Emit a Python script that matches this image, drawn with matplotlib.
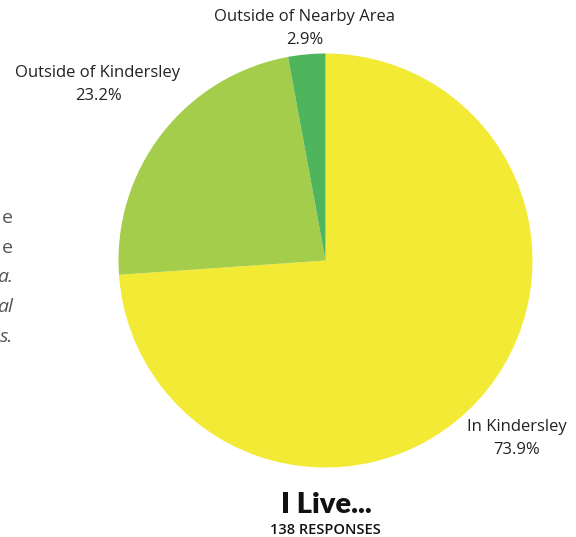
"""Pie chart: where respondents live."""

import matplotlib.pyplot as plt

W, H = 576, 537

labels = ['In Kindersley', 'Outside of Kindersley', 'Outside of Nearby Area']
values = [73.9, 23.2, 2.9]
colors = ['#f2ea35', '#a4cd4b', '#4fb55d']

title = 'I Live...'
subtitle = '138 RESPONSES'

# cut-off caption fragments at left edge
side_text = ['e', 'e', 'a.', 'al', 's.']
side_italic = [False, False, True, True, True]

plt.rcParams['font.family'] = ['Open Sans', 'DejaVu Sans']

fig = plt.figure(figsize=(W / 100, H / 100), dpi=100)
fig.patch.set_facecolor('white')

cx, cy, r = 325.5, 260.5, 207
ax = fig.add_axes([(cx - r) / W, (H - cy - r) / H, 2 * r / W, 2 * r / H])
ax.pie(values, colors=colors, startangle=90, counterclock=False,
       wedgeprops=dict(linewidth=0))
ax.set_xlim(-1, 1)
ax.set_ylim(-1, 1)
ax.set_aspect('equal')
ax.axis('off')


def px(x, y):
    return x / W, 1 - y / H


label_pos = [(517, 427), (98, 73), (305, 17)]
for lab, val, (x, y) in zip(labels, values, label_pos):
    fig.text(*px(x, y), lab, ha='center', va='center', fontsize=12, color='#222222')
    fig.text(*px(x, y + 23), f'{val}%', ha='center', va='center', fontsize=12,
             color='#222222')

for i, (t, it) in enumerate(zip(side_text, side_italic)):
    fig.text(*px(13, 218 + i * 29.7), t, ha='right', va='center', fontsize=14,
             color='#555555', style='italic' if it else 'normal')

fig.text(*px(326, 505), title, ha='center', va='center', fontsize=21,
         fontweight='heavy', color='#111111', family=['Lato', 'DejaVu Sans'])
fig.text(*px(325, 530), subtitle, ha='center', va='center', fontsize=10.5,
         fontweight='semibold', color='#111111')

fig.savefig('out.png', dpi=100)
